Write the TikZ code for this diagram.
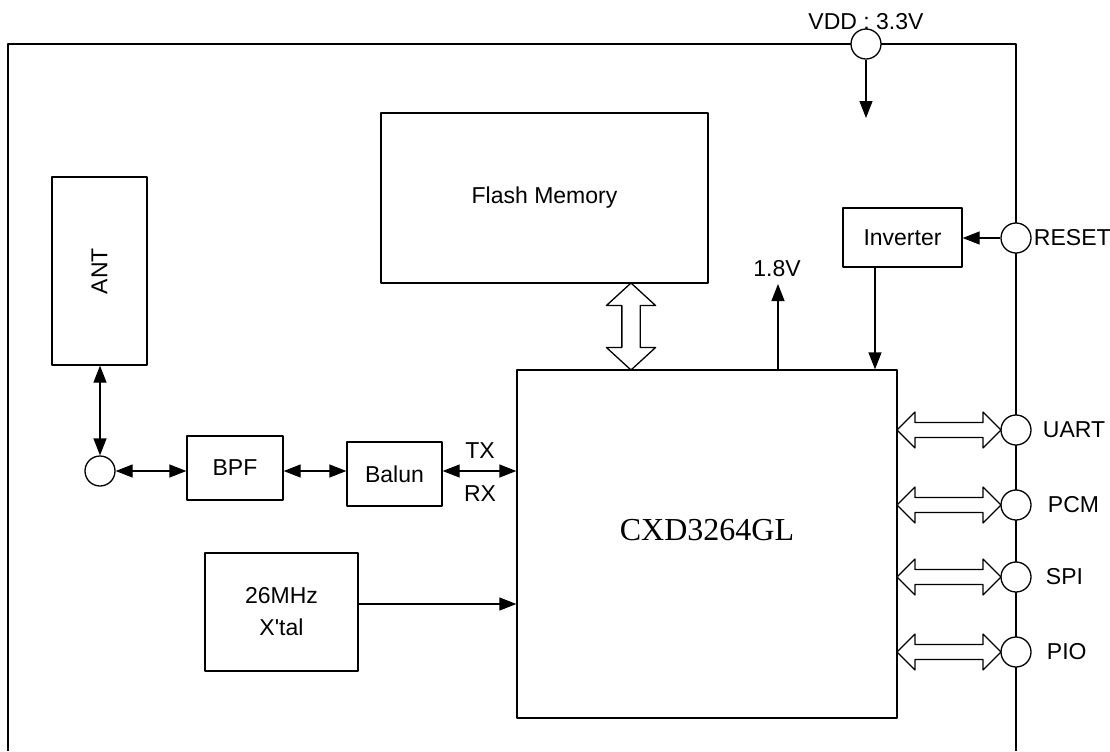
\documentclass[tikz,border=0pt]{standalone}
\usepackage{fontspec}
\setmainfont{Liberation Sans}
\newfontfamily\chipfont{Liberation Serif}
\usetikzlibrary{arrows.meta,calc,shapes.arrows}

\tikzset{
  blk/.style={draw, inner sep=0pt, font=\fontsize{11.5}{13}\selectfont},
  pin/.style={draw, circle, fill=white, minimum size=15pt, inner sep=0pt},
  sig/.style={-{Triangle[length=8.5pt,width=6.5pt]}},
  sigboth/.style={{Triangle[length=8.5pt,width=6.5pt]}-{Triangle[length=8.5pt,width=6.5pt]}},
  bus/.style={draw, fill=white, double arrow, inner sep=3.4pt,
    double arrow head extend=5.25pt, minimum height=52pt},
  txt/.style={font=\fontsize{11.5}{13}\selectfont}
}

\begin{document}
\begin{tikzpicture}[x=0.5pt, y=-0.5pt, line width=0.65pt, line join=round]
  \useasboundingbox (0,0) rectangle (1110,751);
  % outer frame
  \draw (8,751) -- (8,44) -- (1016,44) -- (1016,751);

  % blocks
  \node[blk, minimum width=163.5pt, minimum height=85pt] (flash) at (544.5,198) {Flash Memory};
  \node[blk, minimum width=190pt, minimum height=174pt] (chip) at (707,544) {};
  \node[font=\chipfont\fontsize{16}{18}\selectfont] (chiplbl) at (707,530) {CXD3264GL};
  \node[blk, minimum width=59.5pt, minimum height=29.5pt] (inv) at (902.5,237.5) {Inverter};
  \node[blk, minimum width=47.5pt, minimum height=94pt] (ant) at (99.5,271) {};
  \node[txt, rotate=90] (antlbl) at (ant) {ANT};
  \node[blk, minimum width=48pt, minimum height=32pt] (bpf) at (235,468) {BPF};
  \node[blk, minimum width=47.5pt, minimum height=32pt] (balun) at (394.5,474) {Balun};
  \node[blk, minimum width=76.5pt, minimum height=59pt, align=center] (xtal) at (281.5,612) {26MHz\\[3pt]X\textquotesingle tal};

  % pins
  \node[pin] (vdd) at (866,44) {};
  \node[txt] (vddlbl) at (866,22) {VDD : 3.3V};
  \node[pin, label={[txt, label distance=-2.5pt]right:RESET}] (reset) at (1016,238) {};
  \node[pin, label={[txt, label distance=2pt]right:UART}] (uart) at (1016,430) {};
  \node[pin, label={[txt, label distance=4.5pt]right:PCM}] (pcm) at (1016,505) {};
  \node[pin, label={[txt, label distance=3.5pt]right:SPI}] (spi) at (1016,577) {};
  \node[pin, label={[txt, label distance=4pt]right:PIO}] (pio) at (1016,652) {};
  \node[pin] (antpin) at (100,471) {};

  % power and reset
  \coordinate (vddend) at (866,118);
  \draw[sig] (vdd.south) -- (vddend);
  \coordinate (v18) at (778,284);
  \draw[sig] (chip.north -| v18) -- (v18);
  \node[txt] (v18lbl) at (777,269) {1.8V};
  \draw[sig] (reset.west) -- (inv.east |- reset);
  \coordinate (invout) at (875,0);
  \draw[sig] (inv.south -| invout) -- (chip.north -| invout);

  % RF path
  \draw[sigboth] (ant.south -| antpin) -- (antpin.north);
  \draw[sigboth] (antpin.east) -- (antpin -| bpf.west);
  \draw[sigboth] (bpf.east |- antpin) -- (balun.west |- antpin);
  \draw[sigboth] (balun.east |- antpin) -- (chip.west |- antpin);
  \node[txt] (tx) at (480,451) {TX};
  \node[txt] (rx) at (480,494) {RX};
  \draw[sig] ($(xtal.east)+(0,-8)$) -- ($(chip.west |- xtal.east)+(0,-8)$);

  % buses
  \coordinate (memx) at (631,0);
  \node[bus, minimum height=43.5pt, inner sep=4.25pt, double arrow head extend=7.75pt,
    double arrow tip angle=95, rotate=90] (membus) at ($(flash.south -| memx)!0.5!(chip.north -| memx)$) {};
  \foreach \p in {uart,pcm,spi,pio}
    \node[bus] (\p bus) at ($(chip.east |- \p)!0.5!(\p.west)$) {};
\end{tikzpicture}
\end{document}
